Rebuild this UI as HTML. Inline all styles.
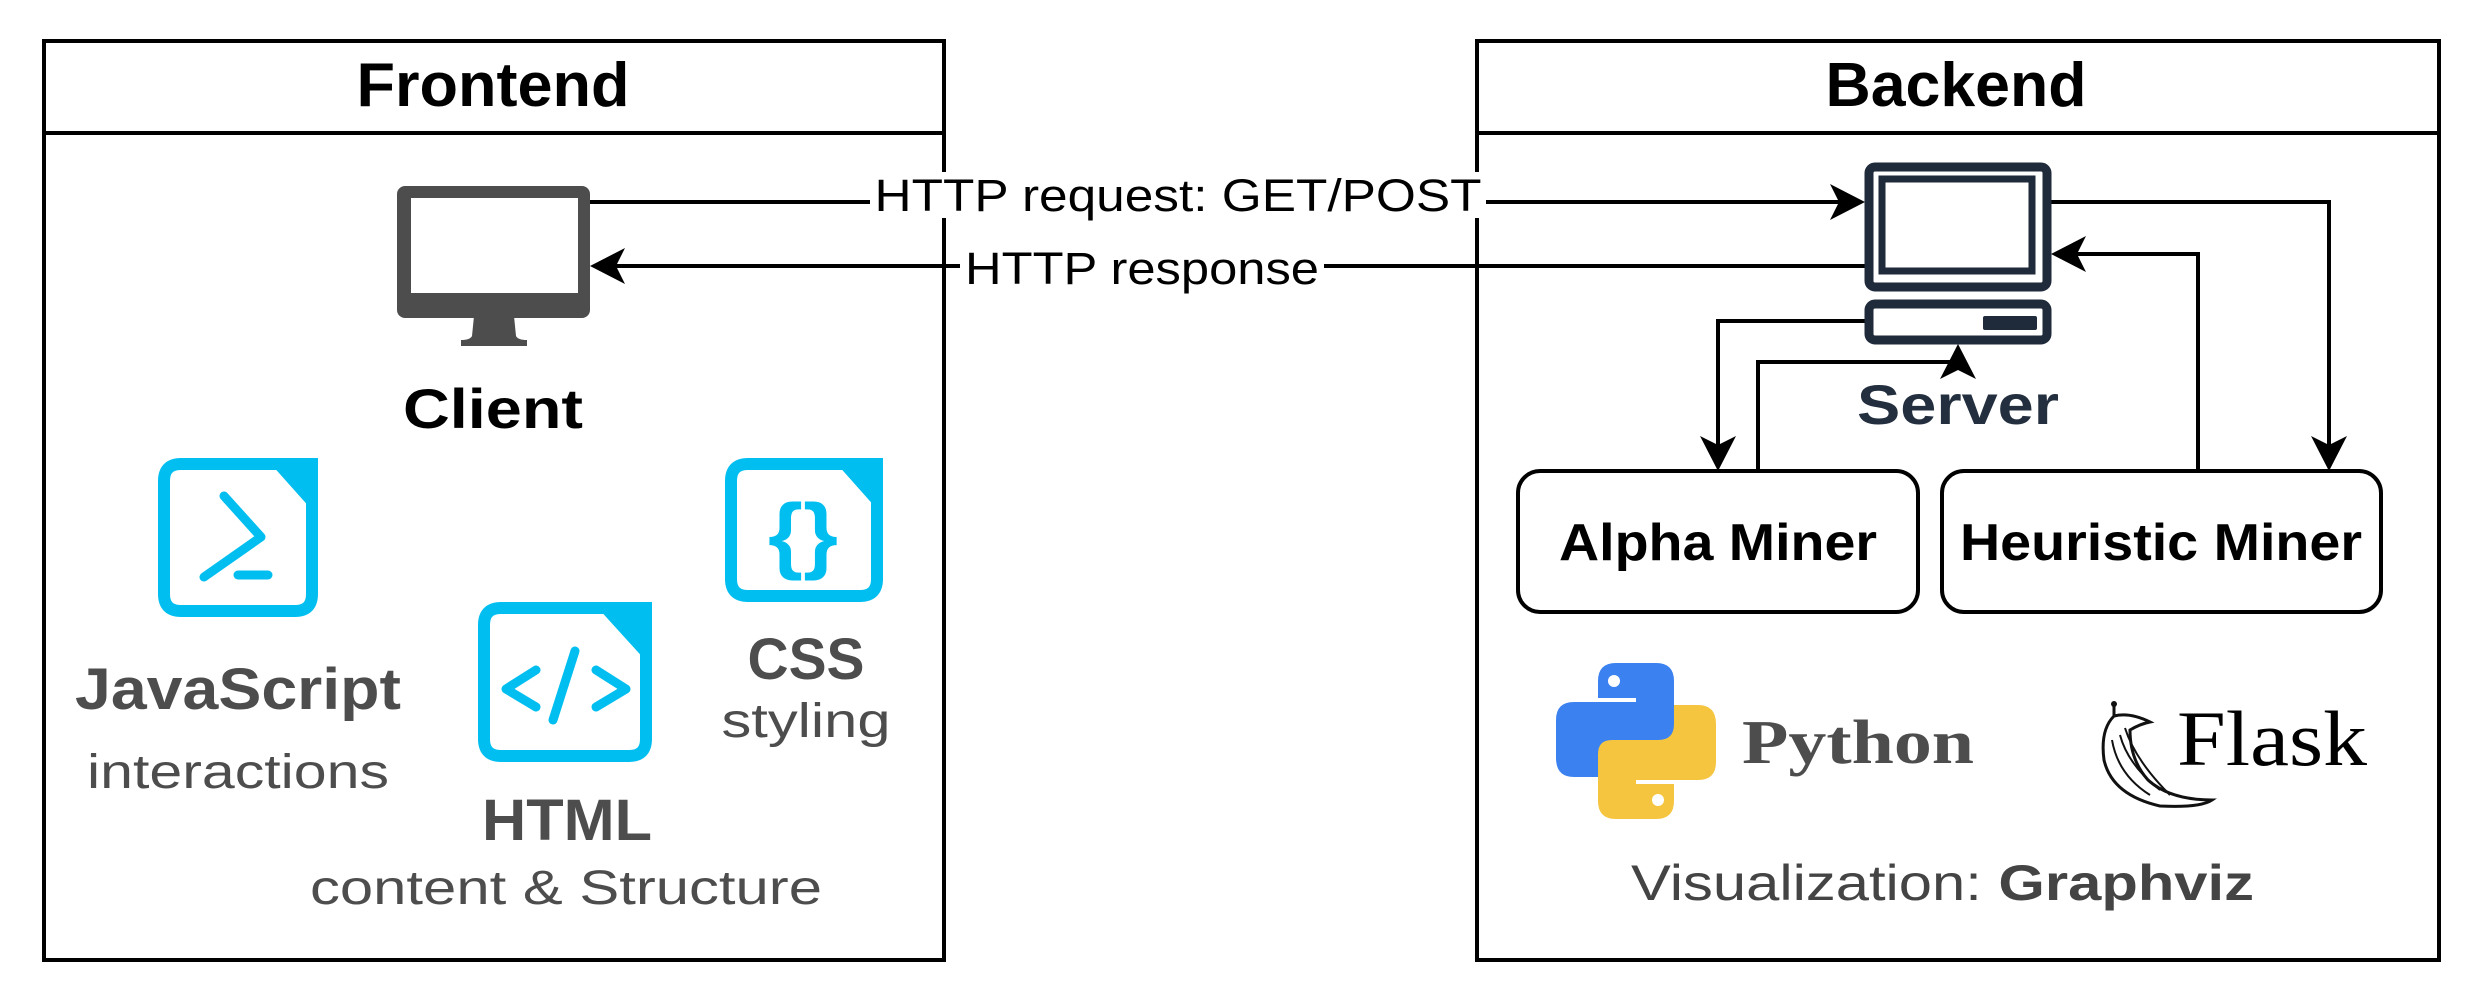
<!DOCTYPE html>
<html><head><meta charset="utf-8"><style>
html,body{margin:0;padding:0;background:#fff;}
svg{display:block;}
</style></head><body>
<svg width="2480" height="1004" viewBox="0 0 2480 1004" xmlns="http://www.w3.org/2000/svg" font-family="Liberation Sans, sans-serif">
<rect width="2480" height="1004" fill="#fff"/>
<g fill="none" stroke="#000" stroke-width="4">
<rect x="44" y="41" width="900" height="919"/>
<line x1="44" y1="133" x2="944" y2="133"/>
<rect x="1477" y="41" width="962" height="919"/>
<line x1="1477" y1="133" x2="2439" y2="133"/>
</g>
<text x="493" y="106" font-size="62" font-weight="bold" text-anchor="middle" textLength="273" lengthAdjust="spacingAndGlyphs">Frontend</text>
<text x="1956" y="106" font-size="62" font-weight="bold" text-anchor="middle" textLength="261" lengthAdjust="spacingAndGlyphs">Backend</text>

<rect x="397" y="186" width="193" height="132" rx="8" fill="#4d4d4d"/>
<rect x="411" y="198" width="167" height="95" fill="#fff"/>
<path d="M474,316 L514,316 L516,336 Q518,340 527,340 L527,346 L461,346 L461,340 Q470,340 472,336 Z" fill="#4d4d4d"/>
<text x="493" y="428" font-size="56" font-weight="bold" text-anchor="middle" textLength="180" lengthAdjust="spacingAndGlyphs">Client</text>

<g fill="none" stroke="#000" stroke-width="4">
<line x1="590" y1="202" x2="1840" y2="202"/>
<line x1="1865" y1="266" x2="615" y2="266"/>
<polyline points="2051,202 2329,202 2329,446"/>
<polyline points="2198,471 2198,254 2076,254"/>
<polyline points="1865,321 1718,321 1718,446"/>
<polyline points="1758,471 1758,362 1958,362 1958,369"/>
</g>
<g fill="#000">
<polygon points="1865,202 1830,184 1839,202 1830,220"/>
<polygon points="590,266 625,248 616,266 625,284"/>
<polygon points="2329,471 2311,436 2329,445 2347,436"/>
<polygon points="2051,254 2086,236 2077,254 2086,272"/>
<polygon points="1718,471 1700,436 1718,445 1736,436"/>
<polygon points="1958,344 1940,379 1958,370 1976,379"/>
</g>
<rect x="870" y="172" width="616" height="46" fill="#fff"/>
<text x="1178" y="211" font-size="45" text-anchor="middle" textLength="607" lengthAdjust="spacingAndGlyphs">HTTP request: GET/POST</text>
<rect x="960" y="246" width="364" height="46" fill="#fff"/>
<text x="1142" y="284" font-size="45" text-anchor="middle" textLength="354" lengthAdjust="spacingAndGlyphs">HTTP response</text>

<g fill="none" stroke="#1f2a3a" stroke-width="9">
<rect x="1869" y="167" width="178" height="120" rx="6"/>
<rect x="1882" y="179" width="150" height="92" stroke-width="7"/>
<rect x="1869" y="304" width="178" height="36" rx="6"/>
</g>
<rect x="1983" y="316" width="54" height="14" rx="2" fill="#1f2a3a"/>
<text x="1958" y="424" font-size="56" font-weight="bold" fill="#232f3e" text-anchor="middle" textLength="202" lengthAdjust="spacingAndGlyphs">Server</text>

<g fill="#fff" stroke="#000" stroke-width="4">
<rect x="1518" y="471" width="400" height="141" rx="22"/>
<rect x="1942" y="471" width="439" height="141" rx="22"/>
</g>
<text x="1718" y="560" font-size="52" font-weight="bold" text-anchor="middle" textLength="318" lengthAdjust="spacingAndGlyphs">Alpha Miner</text>
<text x="2161" y="560" font-size="52" font-weight="bold" text-anchor="middle" textLength="402" lengthAdjust="spacingAndGlyphs">Heuristic Miner</text>

<g fill="none" stroke="#00bff0" stroke-width="12" stroke-linejoin="round">
<path d="M181,464 L279,464 L312,501 L312,594 Q312,611 295,611 L181,611 Q164,611 164,594 L164,481 Q164,464 181,464 Z"/>
<path d="M748,464 L845,464 L877,500 L877,579 Q877,596 860,596 L748,596 Q731,596 731,579 L731,481 Q731,464 748,464 Z"/>
<path d="M501,608 L606,608 L646,652 L646,739 Q646,756 629,756 L501,756 Q484,756 484,739 L484,625 Q484,608 501,608 Z"/>
</g>
<g fill="#00bff0">
<polygon points="277,458 318,458 318,503"/>
<polygon points="843,458 883,458 883,501"/>
<polygon points="604,602 652,602 652,654"/>
</g>
<g fill="none" stroke="#00bff0" stroke-width="9" stroke-linecap="round" stroke-linejoin="round">
<polyline points="224,496 261,537 204,577"/>
<line x1="238" y1="575" x2="268" y2="575"/>
<polyline points="536,670 506,689 536,707"/>
<polyline points="596,670 626,689 596,707"/>
<line x1="575" y1="651" x2="553" y2="720"/>
</g>
<text x="803" y="563" font-size="84" font-weight="bold" fill="#00bff0" text-anchor="middle" textLength="70" lengthAdjust="spacingAndGlyphs">{}</text>

<g fill="#4d4d4d" text-anchor="middle">
<text x="238" y="709" font-size="58" font-weight="bold" textLength="326" lengthAdjust="spacingAndGlyphs">JavaScript</text>
<text x="238" y="788" font-size="48" textLength="302" lengthAdjust="spacingAndGlyphs">interactions</text>
<text x="806" y="679" font-size="58" font-weight="bold" textLength="117" lengthAdjust="spacingAndGlyphs">CSS</text>
<text x="806" y="737" font-size="48" textLength="169" lengthAdjust="spacingAndGlyphs">styling</text>
<text x="567" y="840" font-size="58" font-weight="bold" textLength="170" lengthAdjust="spacingAndGlyphs">HTML</text>
<text x="566" y="904" font-size="48" textLength="512" lengthAdjust="spacingAndGlyphs">content &amp; Structure</text>
</g>

<g>
<path d="M1616,663 L1656,663 Q1674,663 1674,681 L1674,728 Q1674,742 1660,742 L1614,742 Q1598,742 1598,758 L1598,777 L1574,777 Q1556,777 1556,758 L1556,720 Q1556,702 1574,702 L1636,702 L1636,698 L1598,698 L1598,681 Q1598,663 1616,663 Z" fill="#3b82f0"/>
<g transform="rotate(180 1636 741)">
<path d="M1616,663 L1656,663 Q1674,663 1674,681 L1674,728 Q1674,742 1660,742 L1614,742 Q1598,742 1598,758 L1598,777 L1574,777 Q1556,777 1556,758 L1556,720 Q1556,702 1574,702 L1636,702 L1636,698 L1598,698 L1598,681 Q1598,663 1616,663 Z" fill="#f6c540"/>
</g>
<circle cx="1614" cy="681" r="6" fill="#fff"/>
<circle cx="1658" cy="800" r="6" fill="#fff"/>
</g>
<text x="1742" y="763" style="font-family:'Liberation Serif',serif" font-size="62" font-weight="bold" fill="#4d4d4d" textLength="232" lengthAdjust="spacingAndGlyphs">Python</text>

<g fill="none" stroke="#111" stroke-width="3">
<path d="M2114,716 Q2100,730 2104,760 Q2112,795 2160,806 Q2200,808 2212,800 Q2170,800 2148,780 Q2130,760 2130,730 Q2140,724 2150,722 Q2130,712 2114,716 Z"/>
<path d="M2112,740 Q2118,775 2150,795 M2120,735 Q2128,765 2160,790 M2125,728 Q2135,760 2170,795" stroke-width="2"/>
</g>
<circle cx="2114" cy="704" r="3" fill="#111"/>
<line x1="2114" y1="704" x2="2114" y2="716" stroke="#111" stroke-width="3"/>
<text x="2177" y="765" style="font-family:'Liberation Serif',serif" font-size="78" fill="#000" textLength="190" lengthAdjust="spacingAndGlyphs">Flask</text>

<text x="1631" y="900" font-size="50" fill="#444" textLength="623" lengthAdjust="spacingAndGlyphs">Visualization: <tspan font-weight="bold">Graphviz</tspan></text>
</svg>
</body></html>
